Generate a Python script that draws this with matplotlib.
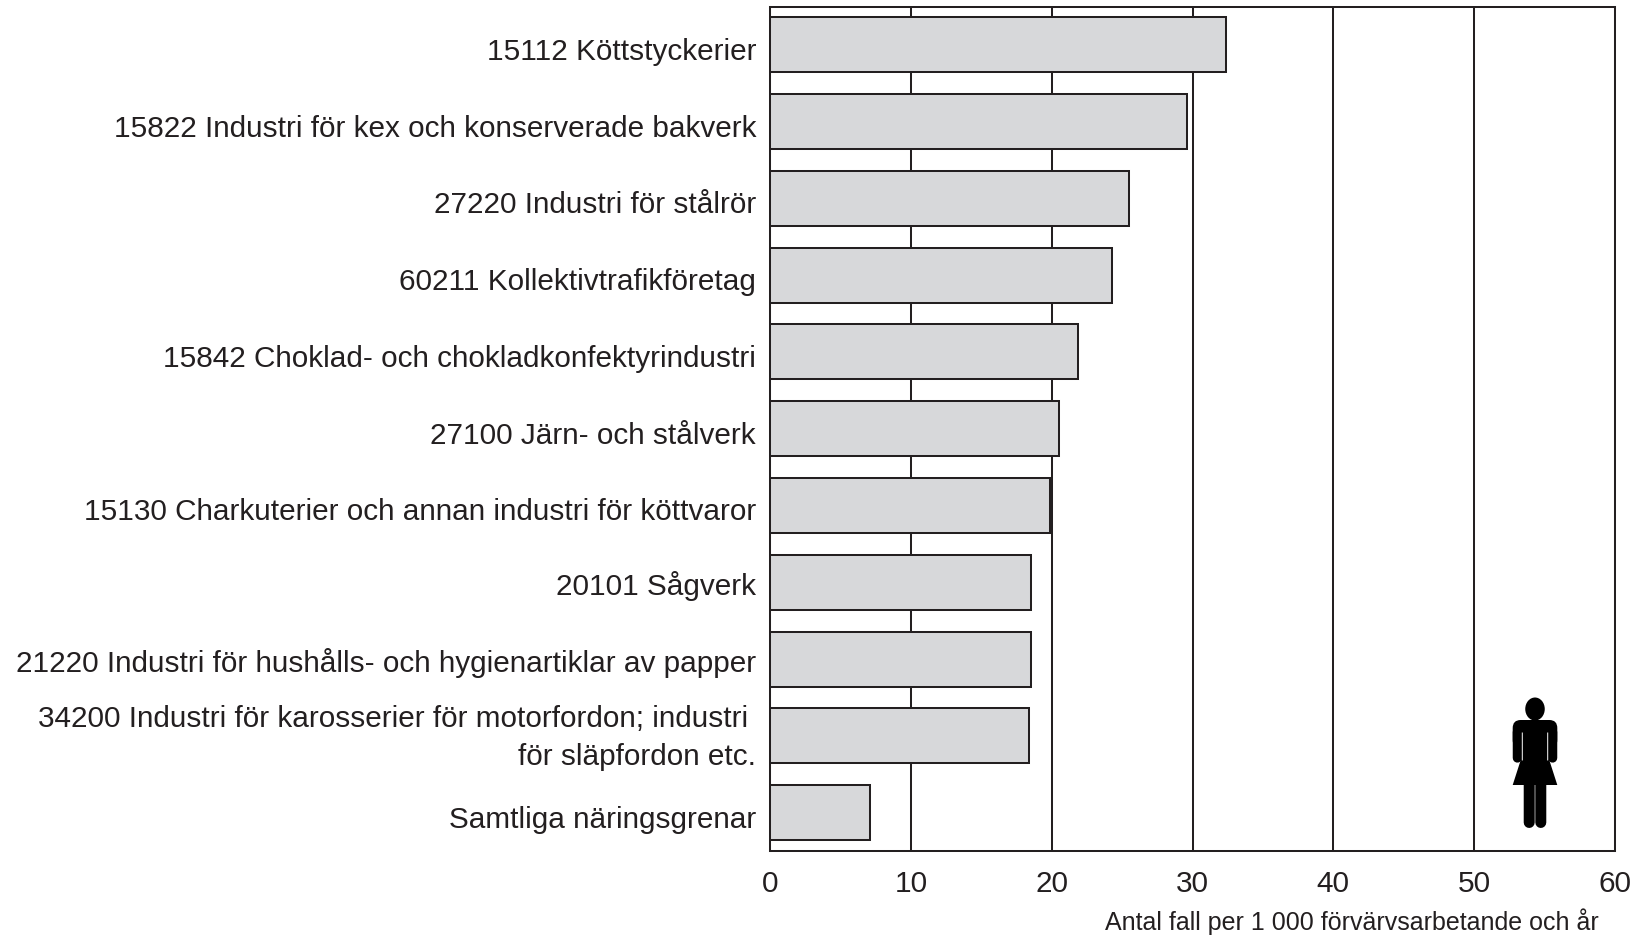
import matplotlib.pyplot as plt
from matplotlib.patches import Ellipse, FancyBboxPatch, Polygon
from matplotlib.transforms import ScaledTranslation

plt.rcParams['font.family'] = ['Liberation Sans', 'DejaVu Sans']

# Branscher, uppifrån och ned
labels = [
    '15112 Köttstyckerier',
    '15822 Industri för kex och konserverade bakverk',
    '27220 Industri för stålrör',
    '60211 Kollektivtrafikföretag',
    '15842 Choklad- och chokladkonfektyrindustri',
    '27100 Järn- och stålverk',
    '15130 Charkuterier och annan industri för köttvaror',
    '20101 Sågverk',
    '21220 Industri för hushålls- och hygienartiklar av papper',
    '34200 Industri för karosserier för motorfordon; industri \nför släpfordon etc.',
    'Samtliga näringsgrenar',
]
values = [32.4, 29.6, 25.5, 24.3, 21.9, 20.5, 19.9, 18.5, 18.5, 18.4, 7.1]
xticks = [0, 10, 20, 30, 40, 50, 60]
xlabel = 'Antal fall per 1 000 förvärvsarbetande och år'

W, H = 1647, 935
dark = '#231f20'
lw = 1.45

fig = plt.figure(figsize=(W / 100, H / 100), dpi=100)
ax = fig.add_axes([770 / W, 1 - 851 / H, 845 / W, 844 / H])

ypos = list(range(len(labels)))
ax.barh(ypos, values, height=0.715, color='#d7d8da', edgecolor=dark, linewidth=lw, zorder=3)

ax.set_xlim(0, 60)
ax.set_ylim(10.499, -0.491)
ax.set_xticks(xticks)
ax.set_yticks(ypos)
ax.set_yticklabels(labels, fontsize=21.4, color=dark, linespacing=1.44)
ax.tick_params(axis='y', length=0, pad=10)
ax.tick_params(axis='x', length=0, pad=14, labelsize=21.4, labelcolor=dark)
ax.grid(axis='x', color=dark, linewidth=lw, zorder=0)
for s in ax.spines.values():
    s.set_color(dark)
    s.set_linewidth(lw)

# Etiketterna ligger lite lägre än staplarnas mitt
for lab in ax.get_yticklabels():
    txt = lab.get_text()
    if '\n' in txt:
        dy = 0.06
    elif txt.startswith(('20101', '21220')):
        dy = -0.01
    else:
        dy = -0.04
    lab.set_transform(lab.get_transform() + ScaledTranslation(0, dy, fig.dpi_scale_trans))

fig.text(1599 / W, 1 - 922 / H, xlabel, ha='right', va='center', fontsize=18, color=dark)

# Kvinnosymbolen, ritad i bildpunkter ovanpå diagrammet
icon = fig.add_axes([0, 0, 1, 1])
icon.set_xlim(0, W)
icon.set_ylim(H, 0)
icon.axis('off')
icon.patch.set_alpha(0)
icon.add_patch(Ellipse((1535, 709), 19.5, 23, color='black', lw=0))
icon.add_patch(FancyBboxPatch((1520.7, 728), 28.6, 12, boxstyle='round,pad=8', color='black', lw=0))
icon.add_patch(Polygon([(1522, 740), (1548, 740), (1548.3, 757), (1557.3, 785), (1512.7, 785), (1521.7, 757)],
                       color='black', lw=0))
for x0 in (1517.4, 1552.6):
    icon.plot([x0, x0], [732, 758], color='black', lw=6.7, solid_capstyle='round', snap=False)
for x0 in (1529.2, 1540.8):
    icon.plot([x0, x0], [785, 822.5], color='black', lw=7.9, solid_capstyle='round', snap=False)
for x0 in (1522.3, 1547.7):
    icon.plot([x0, x0], [733, 760], color='white', lw=0.7, snap=False)

fig.savefig('out.png', dpi=100)
